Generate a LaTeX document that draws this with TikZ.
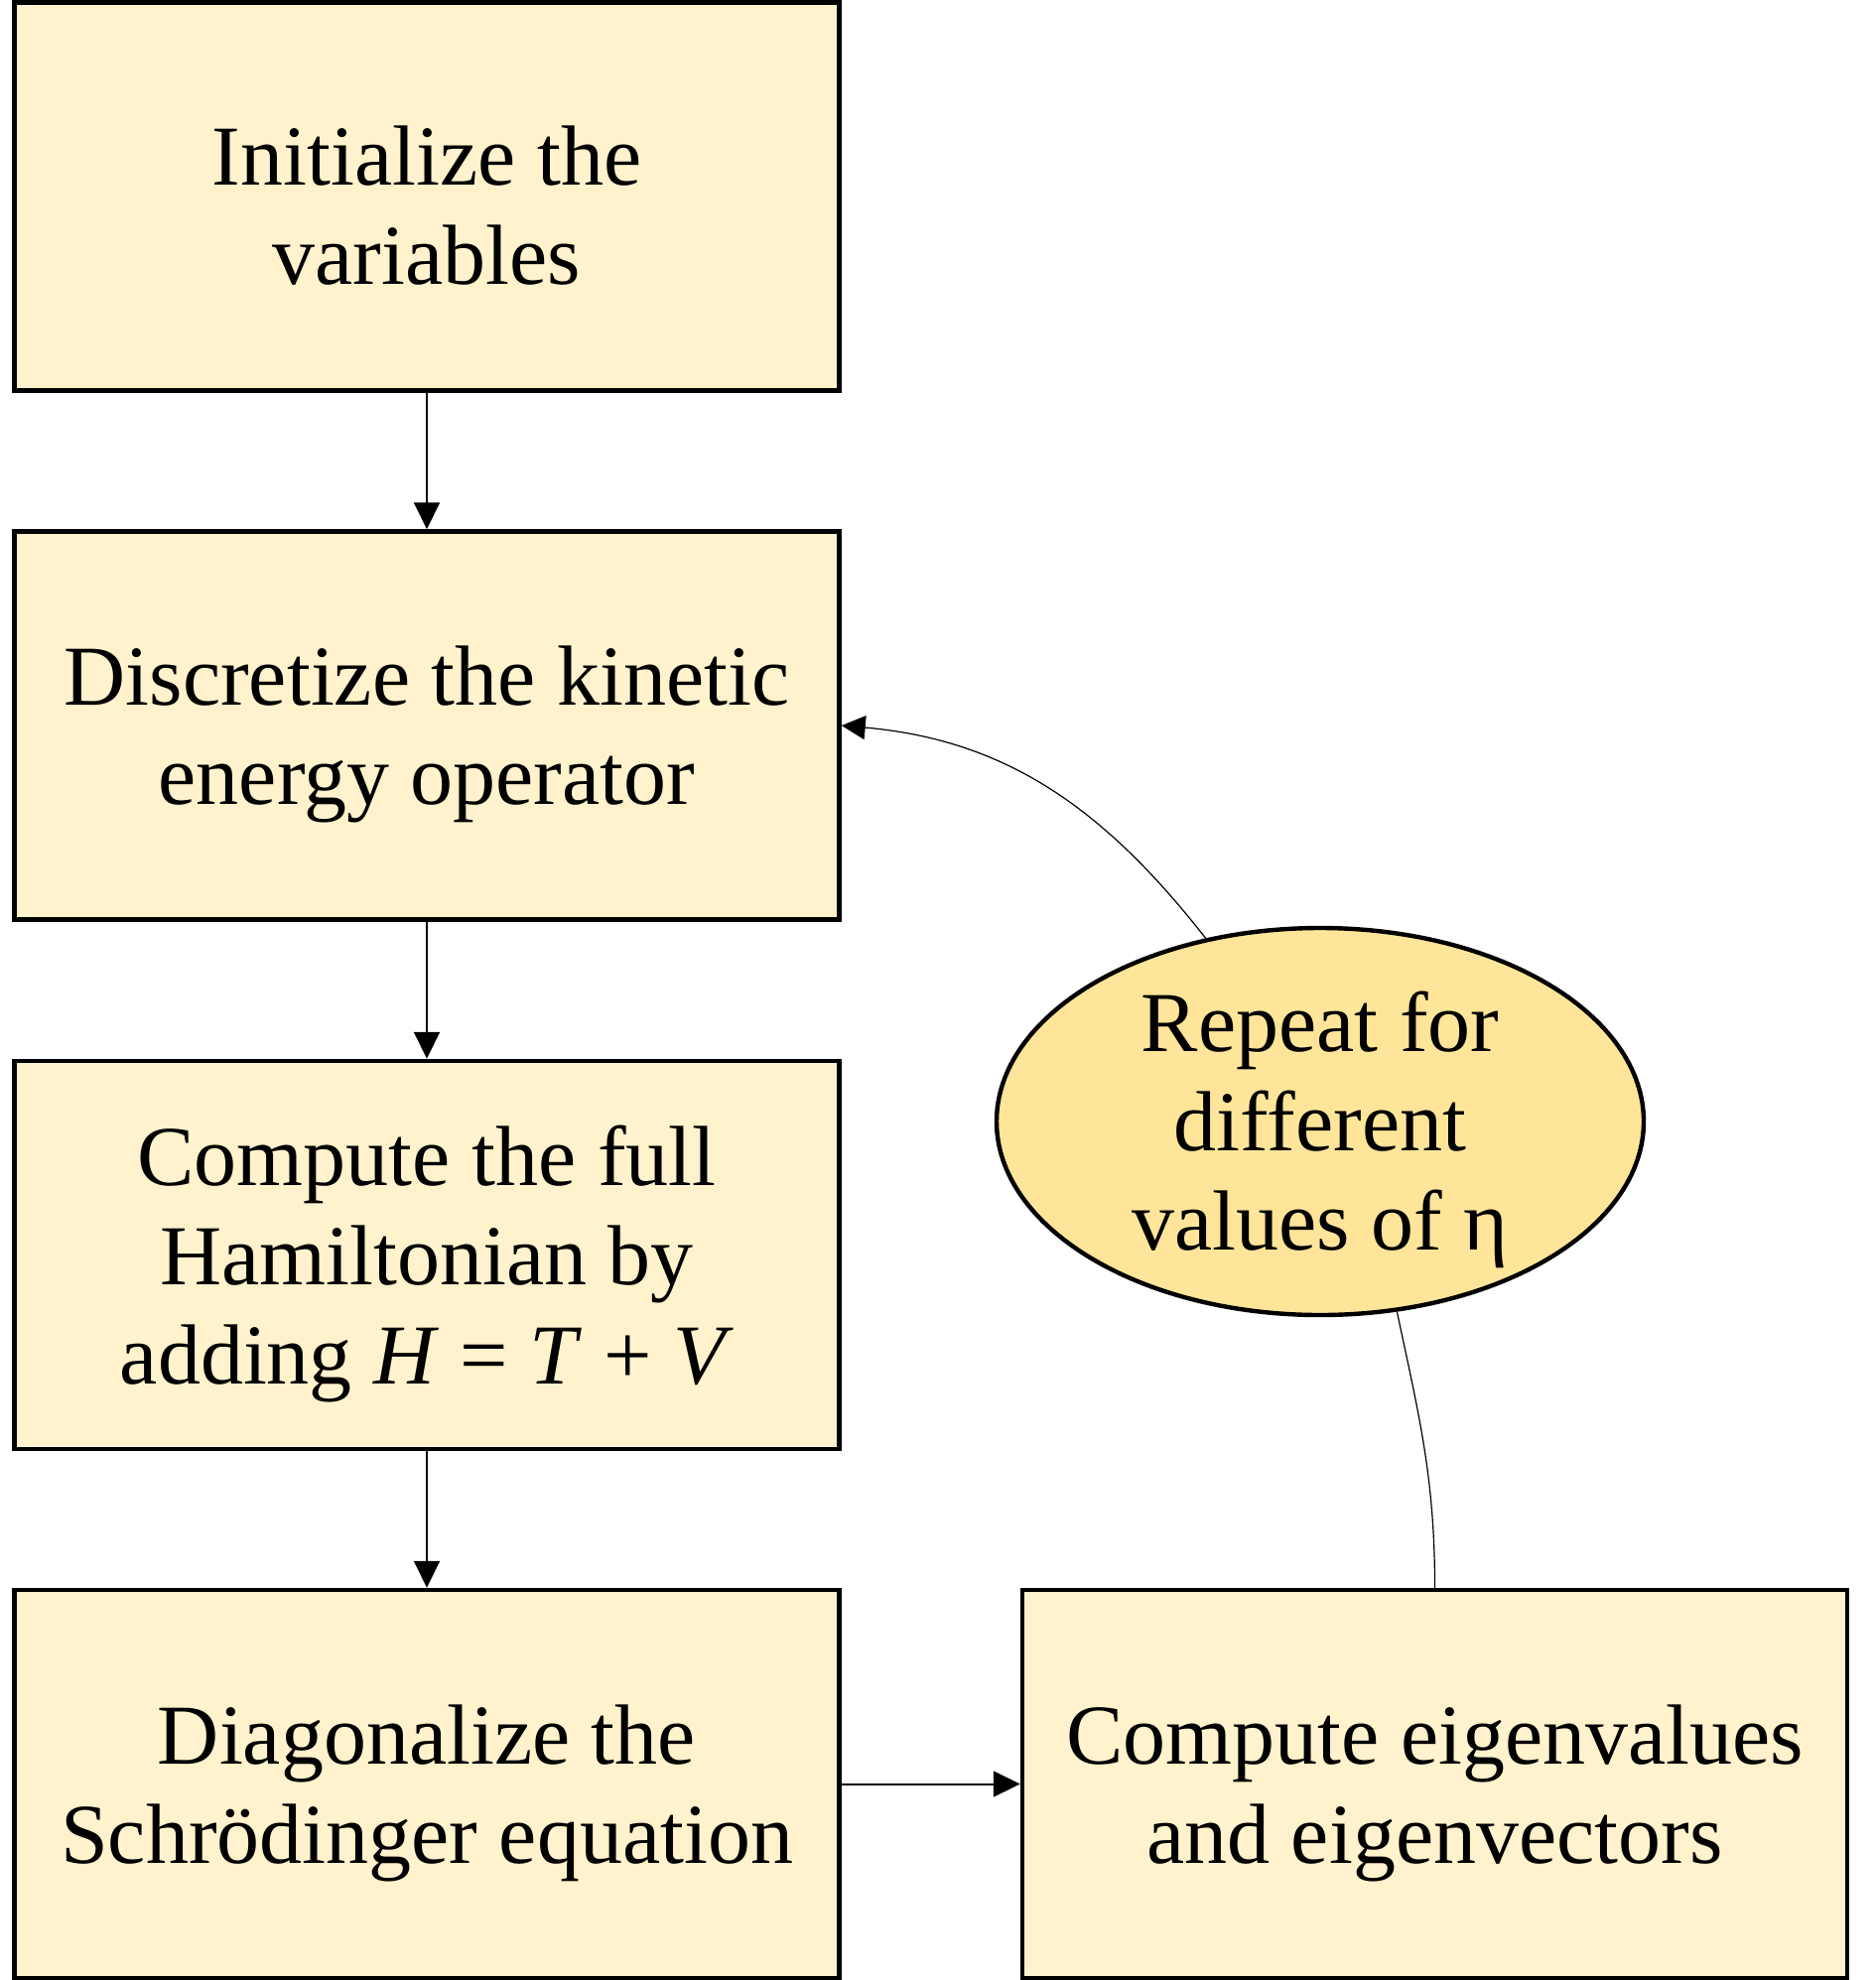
\documentclass[tikz,border=0pt]{standalone}
\usepackage{fontspec}
\setmainfont{Liberation Serif}
\usetikzlibrary{shapes.geometric,arrows.meta}
\definecolor{boxfill}{HTML}{FFF2CC}
\definecolor{ellfill}{HTML}{FFE599}
\newcommand{\toppad}{\rule{0pt}{39pt}}
\tikzset{
  stepbox/.style={draw=black, fill=boxfill, line width=2.25pt, minimum width=415.5pt, minimum height=195.5pt, inner sep=0pt, align=center, font=\fontsize{43}{50}\selectfont},
  loopell/.style={draw=black, fill=ellfill, ellipse, line width=2.2pt, minimum width=326pt, minimum height=195pt, inner xsep=0pt, inner ysep=-10pt, align=center, font=\fontsize{43}{50}\selectfont},
  flow/.style={line width=1pt, -{Triangle[length=13.5pt, width=13pt]}},
  thinflow/.style={line width=0.6pt, -{Triangle[length=12pt, width=12pt]}},
  thinline/.style={line width=0.6pt}
}
\begin{document}
\begin{tikzpicture}[x=0.5pt, y=0.5pt]
\useasboundingbox (0,0) rectangle (1889,-1995);
\node[stepbox] (b1) at (430,-198) {\toppad Initialize the\\variables};
\node[stepbox] (b2) at (430,-731) {\toppad Discretize the kinetic\\energy operator};
\node[stepbox] (b3) at (430,-1264.5) {\toppad Compute the full\\Hamiltonian by\\adding \textit{H} = \textit{T} + \textit{V}};
\node[stepbox] (b4) at (430,-1797.5) {\toppad Diagonalize the\\Schrödinger equation};
\node[stepbox] (b5) at (1445.5,-1797.5) {\toppad Compute eigenvalues\\and eigenvectors};
\node[loopell] (e) at (1330,-1130) {\toppad Repeat for\\different\\values of η};
\draw[flow] (b1.south) -- (b2.north);
\draw[flow] (b2.south) -- (b3.north);
\draw[flow] (b3.south) -- (b4.north);
\draw[flow] (b4.east) -- (b5.west);
\draw[thinline] (b5.north) to[out=90, in=-78] (e.-68);
\draw[thinflow] (e.122) to[out=128, in=-5] (b2.east);
\end{tikzpicture}
\end{document}
